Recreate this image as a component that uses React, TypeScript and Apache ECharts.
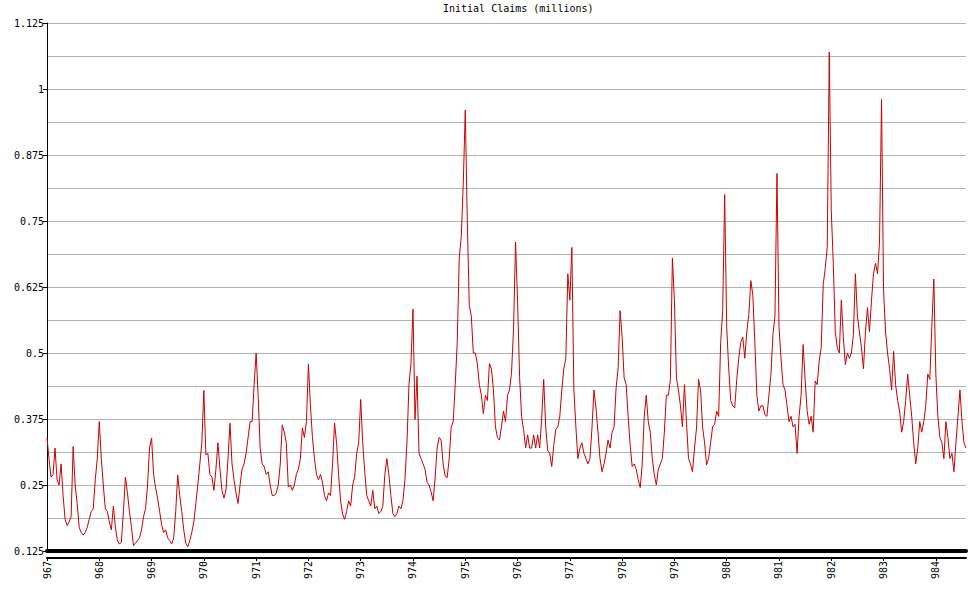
import React, { useEffect, useRef } from "react";
import * as echarts from "echarts";

const titleText = "Initial Claims (millions)";
const years = [1967, 1968, 1969, 1970, 1971, 1972, 1973, 1974, 1975, 1976, 1977, 1978, 1979, 1980, 1981, 1982, 1983, 1984];

// biweekly readings (millions), 26 per year
const y1967 = [0.339,0.30,0.265,0.27,0.32,0.26,0.25,0.29,0.23,0.185,0.173,0.18,0.19,0.323,0.25,0.215,0.17,0.16,0.155,0.16,0.17,0.185,0.2,0.205,0.26,0.3];
const y1968 = [0.37,0.3,0.25,0.205,0.2,0.18,0.165,0.21,0.17,0.145,0.138,0.142,0.2,0.265,0.235,0.2,0.17,0.135,0.14,0.145,0.15,0.165,0.19,0.205,0.25,0.32];
const y1969 = [0.339,0.27,0.245,0.225,0.2,0.175,0.16,0.165,0.15,0.145,0.138,0.15,0.2,0.269,0.23,0.2,0.165,0.14,0.133,0.145,0.16,0.18,0.215,0.25,0.29,0.33];
const y1970 = [0.429,0.307,0.31,0.27,0.265,0.24,0.28,0.33,0.28,0.24,0.225,0.24,0.3,0.367,0.29,0.26,0.235,0.215,0.25,0.28,0.29,0.31,0.34,0.37,0.37,0.44];
const y1971 = [0.5,0.42,0.32,0.29,0.285,0.27,0.275,0.25,0.23,0.23,0.235,0.25,0.29,0.364,0.35,0.33,0.246,0.25,0.24,0.25,0.27,0.28,0.3,0.358,0.34,0.37];
const y1972 = [0.479,0.4,0.34,0.3,0.27,0.26,0.27,0.255,0.23,0.22,0.235,0.23,0.29,0.367,0.33,0.27,0.22,0.195,0.185,0.2,0.22,0.21,0.25,0.265,0.31,0.33];
const y1973 = [0.412,0.33,0.275,0.23,0.22,0.21,0.24,0.205,0.21,0.196,0.2,0.21,0.27,0.3,0.27,0.23,0.196,0.19,0.196,0.21,0.205,0.22,0.26,0.33,0.44,0.48];
const y1974 = [0.583,0.374,0.456,0.31,0.3,0.29,0.28,0.255,0.25,0.237,0.22,0.263,0.32,0.34,0.335,0.29,0.267,0.264,0.3,0.36,0.37,0.44,0.52,0.68,0.72,0.82];
const y1975 = [0.96,0.75,0.59,0.57,0.5,0.5,0.48,0.44,0.42,0.385,0.42,0.41,0.48,0.47,0.43,0.36,0.34,0.335,0.36,0.39,0.37,0.42,0.43,0.463,0.545,0.71];
const y1976 = [0.6,0.456,0.38,0.355,0.32,0.345,0.32,0.32,0.345,0.32,0.345,0.32,0.377,0.45,0.36,0.315,0.31,0.285,0.325,0.355,0.36,0.38,0.43,0.47,0.49,0.65];
const y1977 = [0.6,0.7,0.43,0.36,0.3,0.32,0.33,0.31,0.3,0.29,0.3,0.358,0.43,0.396,0.35,0.3,0.275,0.29,0.31,0.335,0.32,0.35,0.36,0.434,0.47,0.58];
const y1978 = [0.53,0.453,0.44,0.38,0.325,0.285,0.29,0.28,0.26,0.245,0.29,0.38,0.42,0.37,0.35,0.3,0.27,0.25,0.28,0.29,0.3,0.35,0.42,0.42,0.45,0.68];
const y1979 = [0.6,0.453,0.43,0.4,0.36,0.44,0.37,0.3,0.29,0.275,0.32,0.358,0.45,0.43,0.36,0.33,0.288,0.3,0.33,0.36,0.365,0.39,0.38,0.52,0.58,0.8];
const y1980 = [0.55,0.47,0.41,0.4,0.396,0.45,0.49,0.52,0.53,0.49,0.54,0.573,0.637,0.61,0.52,0.42,0.39,0.4,0.4,0.383,0.38,0.42,0.46,0.535,0.57,0.84];
const y1981 = [0.55,0.49,0.44,0.43,0.4,0.37,0.38,0.36,0.365,0.31,0.38,0.42,0.516,0.45,0.39,0.365,0.38,0.35,0.447,0.44,0.485,0.51,0.63,0.66,0.7,1.07];
const y1982 = [0.77,0.67,0.54,0.51,0.5,0.6,0.53,0.478,0.5,0.49,0.5,0.535,0.65,0.57,0.54,0.51,0.47,0.54,0.586,0.54,0.6,0.65,0.67,0.65,0.71,0.98];
const y1983 = [0.62,0.54,0.5,0.47,0.43,0.503,0.44,0.41,0.39,0.35,0.37,0.41,0.46,0.42,0.38,0.33,0.29,0.32,0.37,0.35,0.37,0.4,0.46,0.45,0.55,0.64];
const y1984 = [0.46,0.38,0.34,0.33,0.3,0.37,0.34,0.3,0.31,0.275,0.33,0.38,0.43,0.37,0.33,0.32];

const yearValues = [y1967, y1968, y1969, y1970, y1971, y1972, y1973, y1974, y1975, y1976, y1977, y1978, y1979, y1980, y1981, y1982, y1983, y1984];

const categories: string[] = [];
const values: number[] = [];
years.forEach((yr, k) => {
  yearValues[k].forEach((v, i) => {
    categories.push(`${yr}-${i}`);
    values.push(v);
  });
});

const FONT = "DejaVu Sans Mono";
const isYearStart = (_idx: number, val: string) => String(val).endsWith("-0");

export default function App() {
  const ref = useRef<HTMLDivElement>(null);
  useEffect(() => {
    if (!ref.current) return;
    const chart = echarts.init(ref.current, null, { renderer: "svg" });
    chart.setOption({
      animation: false,
      backgroundColor: "#ffffff",
      title: {
        text: titleText,
        left: 438,
        top: -2,
        textStyle: { fontFamily: FONT, fontSize: 10, fontWeight: "normal", color: "#000" },
      },
      grid: { left: 47, right: 2, top: 23, bottom: 42, containLabel: false },
      xAxis: [
        {
          type: "category",
          data: categories,
          boundaryGap: false,
          position: "bottom",
          offset: 7,
          axisLine: { show: true, lineStyle: { color: "#000", width: 2 } },
          axisTick: { show: true, length: 3, interval: isYearStart, lineStyle: { color: "#000" } },
          axisLabel: {
            show: true,
            interval: isYearStart,
            rotate: 90,
            margin: 3,
            fontFamily: FONT,
            fontSize: 10,
            color: "#000",
            formatter: (v: string) => v.split("-")[0].slice(1),
          },
          splitLine: { show: false },
        },
        {
          type: "category",
          data: categories,
          boundaryGap: false,
          position: "bottom",
          offset: 0,
          axisLine: { show: true, lineStyle: { color: "#000", width: 4 } },
          axisTick: { show: false },
          axisLabel: { show: false },
          splitLine: { show: false },
        },
      ],
      yAxis: {
        type: "value",
        min: 0.125,
        max: 1.125,
        interval: 0.125,
        axisLine: { show: true, lineStyle: { color: "#000", width: 1 } },
        axisTick: { show: true, length: 4, lineStyle: { color: "#000" } },
        axisLabel: { fontFamily: FONT, fontSize: 10, color: "#000", margin: 3 },
        splitLine: { show: true, lineStyle: { color: "#b4b4b4", width: 1 } },
        minorTick: { show: false, splitNumber: 2 },
        minorSplitLine: { show: true, lineStyle: { color: "#b4b4b4", width: 1 } },
      },
      series: [
        {
          type: "line",
          xAxisIndex: 0,
          data: values,
          showSymbol: false,
          symbol: "none",
          lineStyle: { color: "#cc0000", width: 1 },
          z: 3,
        },
      ],
    });
    return () => chart.dispose();
  }, []);
  return <div ref={ref} style={{ position: "fixed", left: 0, top: 0, width: 968, height: 593 }} />;
}
